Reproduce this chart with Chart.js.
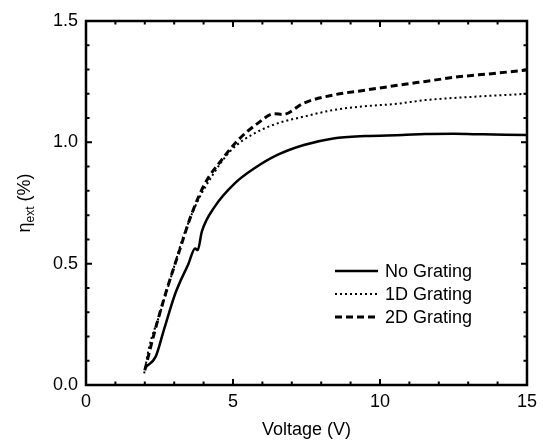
<!DOCTYPE html>
<html>
<head>
<meta charset="utf-8">
<script src="https://cdn.jsdelivr.net/npm/chart.js@4.4.0/dist/chart.umd.min.js"></script>
<style>
  body { margin: 0; background: #fff; }
  canvas { display: block; }
</style>
</head>
<body>
<canvas id="myChart" width="543" height="442"></canvas>
<script>
// values
const voltNone = [2.04, 2.37, 2.65, 3.04, 3.49, 3.71, 3.80, 3.94, 4.38, 5.06, 5.73, 6.51, 7.41, 8.41, 9.5, 10.76, 11.54, 12.5, 13.5, 15];
const etaNone = [0.075, 0.117, 0.227, 0.378, 0.501, 0.563, 0.556, 0.632, 0.735, 0.831, 0.893, 0.948, 0.989, 1.016, 1.026, 1.030, 1.034, 1.035, 1.033, 1.03];

const volt1D = [1.98, 2.15, 2.48, 2.93, 3.27, 3.71, 4.27, 4.94, 5.73, 6.51, 7.41, 8.41, 9.42, 10.5, 11.54, 13.22, 15];
const eta1D = [0.048, 0.158, 0.281, 0.46, 0.597, 0.735, 0.858, 0.968, 1.037, 1.078, 1.106, 1.133, 1.148, 1.158, 1.174, 1.188, 1.20];

const volt2D = [2.0, 2.32, 2.71, 3.15, 3.6, 4.05, 4.61, 5.17, 5.84, 6.4, 6.7, 7.41, 8.41, 9.5, 10.65, 11.6, 12.66, 13.8, 15];
const eta2D = [0.06, 0.213, 0.378, 0.543, 0.707, 0.831, 0.927, 1.009, 1.078, 1.118, 1.115, 1.162, 1.195, 1.215, 1.236, 1.252, 1.27, 1.283, 1.298];

const seriesLabels = ['No Grating', '1D Grating', '2D Grating'];
const xMinorTicks = [0, 1, 2, 3, 4, 5, 6, 7, 8, 9, 10, 11, 12, 13, 14, 15];
const yMinorTicks = [0, 0.1, 0.2, 0.3, 0.4, 0.5, 0.6, 0.7, 0.8, 0.9, 1.0, 1.1, 1.2, 1.3, 1.4, 1.5];

const FONT = 'Liberation Sans, Arial, sans-serif';

function pts(xs, ys) {
  return xs.map((v, i) => ({ x: v, y: ys[i] }));
}

// frame, inward ticks, y title and legend
const framePlugin = {
  id: 'frame',
  afterDraw(chart) {
    const ctx = chart.ctx;
    const { left, right, top, bottom } = chart.chartArea;
    const x = chart.scales.x, y = chart.scales.y;
    ctx.save();
    ctx.strokeStyle = '#000';
    ctx.lineWidth = 2.5;
    ctx.strokeRect(left, top, right - left, bottom - top);

    ctx.lineWidth = 2;
    ctx.beginPath();
    xMinorTicks.forEach(v => {
      const px = x.getPixelForValue(v);
      const len = v % 5 === 0 ? 6 : 3.5;
      ctx.moveTo(px, bottom); ctx.lineTo(px, bottom - len);
      ctx.moveTo(px, top); ctx.lineTo(px, top + len);
    });
    yMinorTicks.forEach((v, i) => {
      const py = y.getPixelForValue(v);
      const len = i % 5 === 0 ? 6 : 3.5;
      ctx.moveTo(left, py); ctx.lineTo(left + len, py);
      ctx.moveTo(right, py); ctx.lineTo(right - len, py);
    });
    ctx.stroke();

    // y axis title with subscript
    ctx.fillStyle = '#000';
    ctx.translate(30, 203);
    ctx.rotate(-Math.PI / 2);
    ctx.textBaseline = 'alphabetic';
    const big = '18px ' + FONT, small = '12px ' + FONT;
    ctx.font = big; const w1 = ctx.measureText('\u03b7').width;
    ctx.font = small; const w2 = ctx.measureText('ext').width;
    ctx.font = big; const w3 = ctx.measureText(' (%)').width;
    let cx = -(w1 + w2 + w3) / 2;
    ctx.font = big; ctx.fillText('\u03b7', cx, 0); cx += w1;
    ctx.font = small; ctx.fillText('ext', cx, 4); cx += w2;
    ctx.font = big; ctx.fillText(' (%)', cx, 0);
    ctx.restore();

    // legend inside the plot
    ctx.save();
    ctx.font = '18px ' + FONT;
    ctx.fillStyle = '#000';
    ctx.textBaseline = 'middle';
    const rows = [271, 294, 317];
    chart.data.datasets.forEach((ds, i) => {
      ctx.strokeStyle = '#000';
      ctx.lineWidth = ds.borderWidth;
      ctx.setLineDash(ds.borderDash || []);
      ctx.beginPath();
      ctx.moveTo(335, rows[i]);
      ctx.lineTo(378, rows[i]);
      ctx.stroke();
      ctx.fillText(ds.label, 385, rows[i] + 1);
    });
    ctx.restore();
  }
};

const ctx = document.getElementById('myChart');

const chart = new Chart(ctx, {
  type: 'line',
  data: {
    datasets: [{
      label: seriesLabels[0],
      data: pts(voltNone, etaNone),
      borderColor: '#000',
      borderWidth: 2.5,
      borderDash: []
    }, {
      label: seriesLabels[1],
      data: pts(volt1D, eta1D),
      borderColor: '#000',
      borderWidth: 2,
      borderDash: [2, 3]
    }, {
      label: seriesLabels[2],
      data: pts(volt2D, eta2D),
      borderColor: '#000',
      borderWidth: 3,
      borderDash: [7, 4]
    }]
  },
  options: {
    responsive: false,
    animation: false,
    devicePixelRatio: 1,
    layout: { padding: { left: 0, right: 10, top: 21, bottom: 0 } },
    elements: {
      point: { radius: 0 },
      line: { cubicInterpolationMode: 'monotone', fill: false }
    },
    plugins: {
      legend: { display: false },
      tooltip: { enabled: false }
    },
    scales: {
      x: {
        type: 'linear',
        min: 0,
        max: 15,
        afterFit: s => { s.height = 57; },
        ticks: {
          stepSize: 5,
          padding: 6,
          color: '#000',
          font: { family: FONT, size: 18 },
          maxRotation: 0
        },
        grid: { display: false, drawTicks: false },
        border: { display: false },
        title: {
          display: true,
          text: 'Voltage (V)',
          color: '#000',
          font: { family: FONT, size: 18 },
          padding: { top: 0, bottom: 1 }
        }
      },
      y: {
        min: 0,
        max: 1.5,
        afterFit: s => { s.width = 86; },
        ticks: {
          stepSize: 0.5,
          padding: 8,
          color: '#000',
          font: { family: FONT, size: 18 },
          callback: v => v.toFixed(1)
        },
        grid: { display: false, drawTicks: false },
        border: { display: false }
      }
    }
  },
  plugins: [framePlugin]
});
</script>
</body>
</html>
